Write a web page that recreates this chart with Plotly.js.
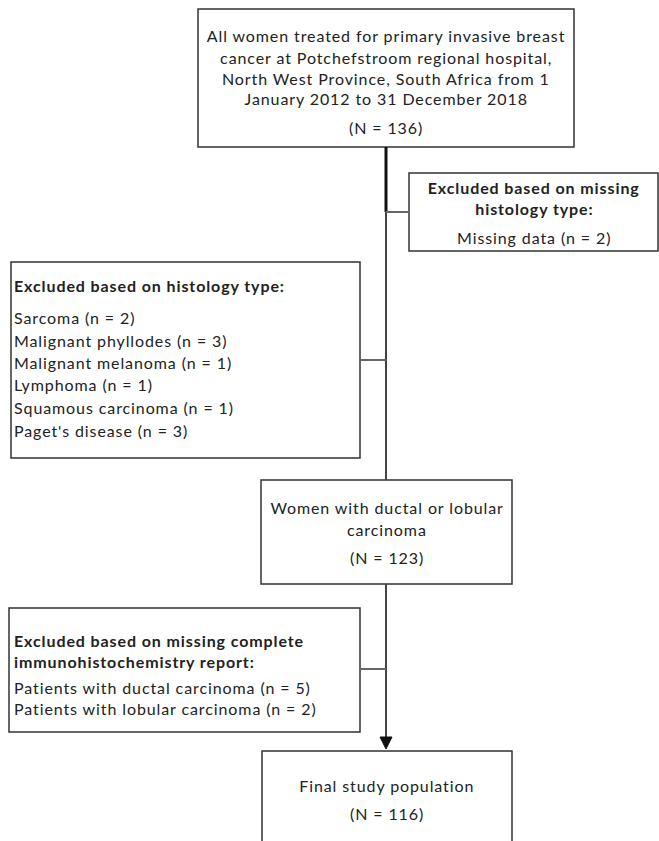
<!DOCTYPE html>
<html>
<head>
<meta charset="utf-8">
<script src="https://cdn.plot.ly/plotly-3.0.1.min.js"></script>
<style>
html,body{margin:0;padding:0;background:#fff;}
#chart{width:659px;height:841px;}
#chart .annotation-text{letter-spacing:0.9px;}
</style>
</head>
<body>
<div id="chart"></div>
<script>
// ---- Data (text content of the flow diagram) ----
var totals = [136, 123, 116];
var startLines = ["All women treated for primary invasive breast",
                  "cancer at Potchefstroom regional hospital,",
                  "North West Province, South Africa from 1",
                  "January 2012 to 31 December 2018"];
var missingHeading = ["Excluded based on missing", "histology type:"];
var missingItems = ["Missing data"];
var missingCounts = [2];
var histHeading = ["Excluded based on histology type:"];
var histItems = ["Sarcoma", "Malignant phyllodes", "Malignant melanoma", "Lymphoma", "Squamous carcinoma", "Paget's disease"];
var histCounts = [2, 3, 1, 1, 1, 3];
var midLines = ["Women with ductal or lobular", "carcinoma"];
var ihcHeading = ["Excluded based on missing complete", "immunohistochemistry report:"];
var ihcItems = ["Patients with ductal carcinoma", "Patients with lobular carcinoma"];
var ihcCounts = [5, 2];
var finalLines = ["Final study population"];

// ---- Layout helpers ----
var FONT = "Lato, 'Open Sans', sans-serif";
var TXT = "#222";
var FS = 16;
var annotations = [];
var shapes = [];
function txt(x, y, s, anchor, bold) {
  annotations.push({x: x, y: y, xref: "x", yref: "y", text: bold ? "<b>" + s + "</b>" : s,
    showarrow: false, xanchor: anchor, yanchor: "middle", align: anchor,
    font: {family: FONT, size: FS, color: TXT}});
}
function box(x0, y0, x1, y1) {
  shapes.push({type: "rect", xref: "x", yref: "y", x0: x0, y0: y0, x1: x1, y1: y1,
    line: {color: "#333", width: 1.5}, fillcolor: "rgba(0,0,0,0)"});
}
function line(x0, y0, x1, y1, w, c) {
  shapes.push({type: "line", xref: "x", yref: "y", x0: x0, y0: y0, x1: x1, y1: y1,
    line: {color: c, width: w}});
}

// Start box
box(198, 9, 574, 147);
var sy = [35, 57, 78, 98];
startLines.forEach(function (s, i) { txt(386, sy[i], s, "center"); });
txt(386, 127, "(N = " + totals[0] + ")", "center");

// Missing histology box
box(409, 173, 658, 251);
txt(534, 187, missingHeading[0], "center", true);
txt(534, 208, missingHeading[1], "center", true);
txt(534, 237, missingItems[0] + " (n = " + missingCounts[0] + ")", "center");

// Histology exclusion box
box(11, 262, 360, 458);
txt(12, 285, histHeading[0], "left", true);
var hy = [317, 340, 362, 384, 407, 430];
histItems.forEach(function (s, i) { txt(12, hy[i], s + " (n = " + histCounts[i] + ")", "left"); });

// Middle box
box(261, 480, 512, 584);
txt(387, 507, midLines[0], "center");
txt(387, 529, midLines[1], "center");
txt(387, 557, "(N = " + totals[1] + ")", "center");

// IHC exclusion box
box(9, 608, 360, 732);
txt(12, 640, ihcHeading[0], "left", true);
txt(12, 661, ihcHeading[1], "left", true);
txt(12, 687, ihcItems[0] + " (n = " + ihcCounts[0] + ")", "left");
txt(12, 708, ihcItems[1] + " (n = " + ihcCounts[1] + ")", "left");

// Final box (bottom cut off)
box(262, 751, 512, 870);
txt(387, 785, finalLines[0], "center");
txt(387, 813, "(N = " + totals[2] + ")", "center");

// Connectors
line(386, 147, 386, 212, 3, "#111");
line(386, 211, 386, 480, 2, "#444");
line(386, 212, 409, 212, 2, "#666");
line(360, 360, 386, 360, 2, "#666");
line(386, 584, 386, 738, 2, "#444");
line(360, 669, 386, 669, 2, "#666");
shapes.push({type: "path", xref: "x", yref: "y", path: "M380,737 L392,737 L386,749 Z",
  fillcolor: "#111", line: {color: "#111", width: 1}});

var layout = {
  width: 659, height: 841,
  margin: {l: 0, r: 0, t: 0, b: 0},
  paper_bgcolor: "#fff", plot_bgcolor: "#fff",
  xaxis: {range: [0, 659], visible: false, fixedrange: true},
  yaxis: {range: [841, 0], visible: false, fixedrange: true},
  showlegend: false,
  shapes: shapes,
  annotations: annotations
};
Plotly.newPlot("chart", [], layout, {staticPlot: true, displayModeBar: false});
</script>
</body>
</html>
